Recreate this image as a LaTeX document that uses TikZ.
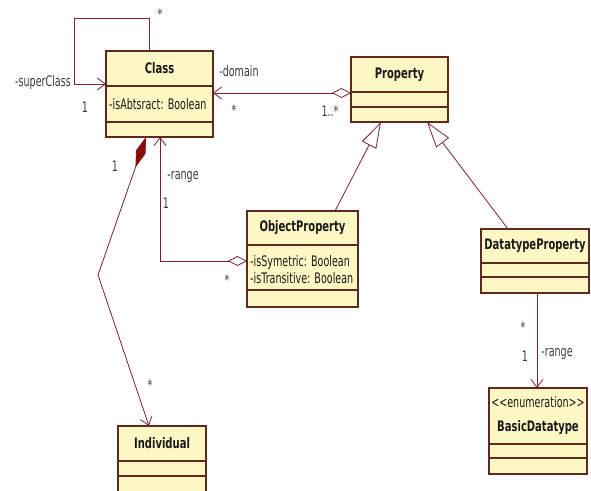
\documentclass[tikz,border=0pt]{standalone}
\usepackage{fontspec}
\setmainfont{DejaVu Sans}
\newfontfamily\umlreg{DejaVu Sans}[FakeStretch=0.66]
\newfontfamily\umlbold{DejaVu Sans}[FakeStretch=0.69]
\usetikzlibrary{arrows.meta,calc}
\definecolor{boxfill}{HTML}{FFF8C4}
\definecolor{boxdraw}{HTML}{5E2A1E}
\definecolor{linecol}{HTML}{7A2232}
\definecolor{compred}{HTML}{8B0A0A}
\definecolor{txt}{HTML}{1A1A1A}
\begin{document}
\begin{tikzpicture}[x=1pt,y=-1pt,
  umlbox/.style={draw=boxdraw, fill=boxfill, line width=1.2pt, rectangle, anchor=north west, inner sep=0pt, outer sep=0pt},
  sep/.style={draw=boxdraw, line width=1.2pt},
  cname/.style={font=\umlbold\bfseries\fontsize{14.5}{16}\selectfont, text=txt, inner sep=0pt},
  attr/.style={font=\umlreg\fontsize{14.5}{16}\selectfont, text=txt, inner sep=0pt, anchor=west},
  lbl/.style={font=\umlreg\fontsize{14.5}{16}\selectfont, text=txt!85, inner sep=0pt},
  conn/.style={draw=linecol, line width=0.8pt},
  barb/.tip={Straight Barb[length=8pt,width=12pt]},
  odiam/.tip={Diamond[open,length=19pt,width=10pt]},
  fdiam/.tip={Diamond[length=32pt,width=10pt,color=compred]},
  gen/.tip={Triangle[open,length=26pt,width=16pt]}
]
\fill[white] (0,0) rectangle (591,490);
\path[use as bounding box] (0,0) rectangle (591,490);
\clip (0,0) rectangle (591,490);

% boxes
\node[umlbox, minimum width=107pt, minimum height=86pt] (class) at (106,51) {};
\node[umlbox, minimum width=97pt, minimum height=65pt] (property) at (351,57) {};
\node[umlbox, minimum width=111pt, minimum height=96pt] (objprop) at (247,211) {};
\node[umlbox, minimum width=108pt, minimum height=64pt] (dtprop) at (481,229) {};
\node[umlbox, minimum width=98pt, minimum height=86pt] (basic) at (489,388) {};
\node[umlbox, minimum width=88pt, minimum height=90pt] (individual) at (118,426) {};

% compartment coordinates
\coordinate (cA) at (0,86);  \coordinate (cB) at (0,122);
\coordinate (pA) at (0,92);  \coordinate (pB) at (0,107);
\coordinate (oA) at (0,245); \coordinate (oB) at (0,290);
\coordinate (dA) at (0,263); \coordinate (dB) at (0,277);
\coordinate (bA) at (0,444); \coordinate (bB) at (0,458);
\coordinate (iA) at (0,461); \coordinate (iB) at (0,476);
\draw[sep] (class.west |- cA) -- (class.east |- cA) (class.west |- cB) -- (class.east |- cB);
\draw[sep] (property.west |- pA) -- (property.east |- pA) (property.west |- pB) -- (property.east |- pB);
\draw[sep] (objprop.west |- oA) -- (objprop.east |- oA) (objprop.west |- oB) -- (objprop.east |- oB);
\draw[sep] (dtprop.west |- dA) -- (dtprop.east |- dA) (dtprop.west |- dB) -- (dtprop.east |- dB);
\draw[sep] (basic.west |- bA) -- (basic.east |- bA) (basic.west |- bB) -- (basic.east |- bB);
\draw[sep] (individual.west |- iA) -- (individual.east |- iA) (individual.west |- iB) -- (individual.east |- iB);

% texts
\node[cname] (classN) at (159.5,68.5) {Class};
\node[attr] (classA) at (109,104) {-isAbtsract: Boolean};
\node[cname] (propN) at (399.5,74.5) {Property};
\node[cname] (objN) at (302.5,228) {ObjectProperty};
\node[attr] (objA1) at (250,262) {-isSymetric: Boolean};
\node[attr] (objA2) at (250,278) {-isTransitive: Boolean};
\node[cname] (dtN) at (535,246) {DatatypeProperty};
\node[lbl, text=txt] (basicS) at (538,402) {<<enumeration>>};
\node[cname] (basicN) at (538,428) {BasicDatatype};
\node[cname] (indN) at (162,443) {Individual};

% connector coordinates
\coordinate (loopTR) at (149,18);
\coordinate (loopBL) at (74,84);
\coordinate (dom) at (0,93);
\coordinate (rng) at (160,261);
\coordinate (g1s) at (335,0); \coordinate (g1e) at (381,0);
\coordinate (g2s) at (508,0); \coordinate (g2e) at (427,0);
\coordinate (cx) at (146,0); \coordinate (cbend) at (98,275); \coordinate (ix) at (149,0);
\coordinate (dx) at (537,0);

% connectors
\draw[conn, -{barb}] (class.north -| loopTR) -- (loopTR) -| (loopBL) -- (class.west |- loopBL);
\draw[conn, {odiam}-{barb}] (property.west |- dom) -- (class.east |- dom);
\draw[conn, {odiam}-{barb}] (objprop.west |- rng) -| (class.south -| rng);
\draw[conn, -{gen}] (objprop.north -| g1s) -- (property.south -| g1e);
\draw[conn, -{gen}] (dtprop.north -| g2s) -- (property.south -| g2e);
\draw[conn, {fdiam}-{barb}] (class.south -| cx) -- (cbend) -- (individual.north -| ix);
\draw[conn, -{barb}] (dtprop.south -| dx) -- (basic.north -| dx);

% multiplicities and role names
\node[lbl] (m1) at (160,14) {*};
\node[lbl] (r1) at (43,82) {-superClass};
\node[lbl] (m2) at (85,107) {1};
\node[lbl] (r2) at (239,71) {-domain};
\node[lbl] (m3) at (234,110) {*};
\node[lbl] (m4) at (330,111) {1..*};
\node[lbl] (m5) at (115,166) {1};
\node[lbl] (r3) at (183,177) {-range};
\node[lbl] (m6) at (166,203) {1};
\node[lbl] (m7) at (227,280) {*};
\node[lbl] (m8) at (150,385) {*};
\node[lbl] (m9) at (523,327) {*};
\node[lbl] (m10) at (525,356) {1};
\node[lbl] (r4) at (557,354) {-range};
\end{tikzpicture}
\end{document}
